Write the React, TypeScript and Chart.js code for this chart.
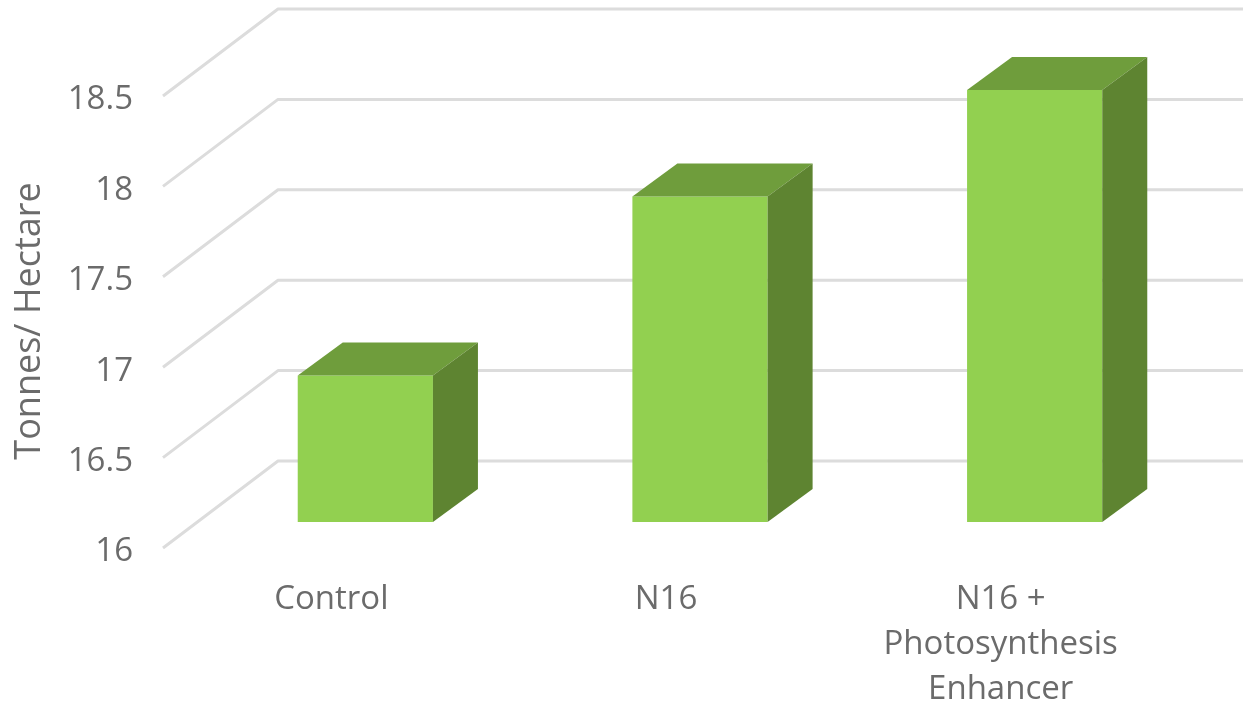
import React, { useEffect, useRef } from "react";
import { Chart, registerables } from "chart.js";

Chart.register(...registerables);

const categories = ["Control", "N16", ["N16 +", "Photosynthesis", "Enhancer"]];
const tonnesPerHectare = [16.81, 17.8, 18.39];
const axisMin = 16;
const axisMax = 18.5;
const axisStep = 0.5;
const axisTitle = "Tonnes/ Hectare";

const FONT = "'Open Sans'";
const FONT_SIZE = 33;
const TITLE_SIZE = 36;
const TEXT = "#6b6b6b";
const GRID = "#dcdcdc";
const FRONT = "#92d050";
const TOP = "#6f9d3c";
const SIDE = "#5e8431";

// Projection offsets of the 3D frame, measured from the bar front plane.
const BACK_DX = 80;
const BACK_DY = -61;
const NEAR_DX = -35;
const NEAR_DY = 26;
const BAR_DX = 45;
const BAR_DY = -33;

const frame3d = {
  id: "frame3d",
  // Wall and side-wall gridlines sit behind the bars.
  beforeDatasetsDraw(chart: any) {
    const { ctx, scales, width } = chart;
    const y = scales.y;
    const left = chart.chartArea.left;
    ctx.save();
    ctx.strokeStyle = GRID;
    ctx.lineWidth = 3;
    ctx.lineJoin = "round";
    y.ticks.forEach((t: any) => {
      const py = y.getPixelForValue(t.value);
      ctx.beginPath();
      ctx.moveTo(left + NEAR_DX, py + NEAR_DY);
      ctx.lineTo(left + BACK_DX, py + BACK_DY);
      ctx.lineTo(width, py + BACK_DY);
      ctx.stroke();
    });
    ctx.restore();
  },
  // Top and side faces extruded from each bar rectangle.
  afterDatasetsDraw(chart: any) {
    const { ctx } = chart;
    const meta = chart.getDatasetMeta(0);
    ctx.save();
    meta.data.forEach((bar: any) => {
      const p = bar.getProps(["x", "y", "base", "width"], true);
      const l = p.x - p.width / 2;
      const r = p.x + p.width / 2;
      ctx.fillStyle = TOP;
      ctx.beginPath();
      ctx.moveTo(l, p.y);
      ctx.lineTo(l + BAR_DX, p.y + BAR_DY);
      ctx.lineTo(r + BAR_DX, p.y + BAR_DY);
      ctx.lineTo(r, p.y);
      ctx.closePath();
      ctx.fill();
      ctx.fillStyle = SIDE;
      ctx.beginPath();
      ctx.moveTo(r, p.y);
      ctx.lineTo(r + BAR_DX, p.y + BAR_DY);
      ctx.lineTo(r + BAR_DX, p.base + BAR_DY);
      ctx.lineTo(r, p.base);
      ctx.closePath();
      ctx.fill();
    });
    ctx.restore();
  },
  afterDraw(chart: any) {
    const { ctx } = chart;
    ctx.save();
    ctx.translate(30, 321);
    ctx.rotate(-Math.PI / 2);
    ctx.fillStyle = TEXT;
    ctx.font = `${TITLE_SIZE}px ${FONT}`;
    ctx.textAlign = "center";
    ctx.textBaseline = "middle";
    ctx.fillText(axisTitle, 0, 0);
    ctx.restore();
  },
};

export default function App() {
  const ref = useRef<HTMLCanvasElement>(null);

  useEffect(() => {
    const chart = new Chart(ref.current!, {
      type: "bar",
      data: {
        labels: categories as any,
        datasets: [
          {
            data: tonnesPerHectare,
            base: axisMin,
            backgroundColor: FRONT,
            borderWidth: 0,
            barPercentage: 0.404,
            categoryPercentage: 1,
          },
        ],
      },
      options: {
        responsive: false,
        animation: false,
        layout: { autoPadding: false, padding: { top: 70, left: 0, right: 41, bottom: 0 } },
        plugins: { legend: { display: false }, tooltip: { enabled: false }, title: { display: false } },
        scales: {
          x: {
            grid: { display: false, drawTicks: false },
            border: { display: false },
            afterFit: (s: any) => {
              s.height = 185;
            },
            ticks: {
              autoSkip: false,
              maxRotation: 0,
              minRotation: 0,
              padding: 55,
              labelOffset: -34,
              color: TEXT,
              font: { family: FONT, size: FONT_SIZE, lineHeight: 45 / FONT_SIZE },
            },
          },
          y: {
            min: axisMin,
            max: axisMax,
            grid: { display: false, drawTicks: false },
            border: { display: false },
            afterFit: (s: any) => {
              s.width = 198;
              s.paddingTop = 0;
              s.paddingBottom = 0;
            },
            ticks: {
              stepSize: axisStep,
              padding: 65,
              labelOffset: 30,
              color: TEXT,
              font: { family: FONT, size: FONT_SIZE },
              callback: (v: number) => String(v),
            },
          },
        },
      },
      plugins: [frame3d],
    } as any);
    return () => chart.destroy();
  }, []);

  return (
    <canvas
      ref={ref}
      width={1243}
      height={707}
      style={{ position: "absolute", left: 0, top: 0, display: "block", background: "#fff" }}
    />
  );
}
